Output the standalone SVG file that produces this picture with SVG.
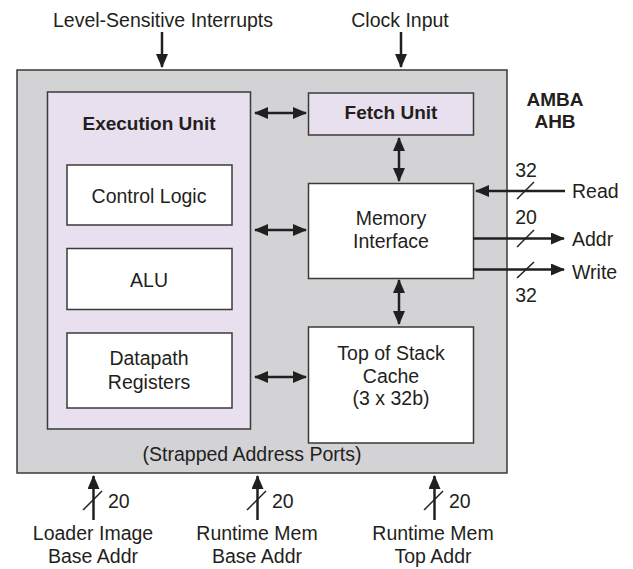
<svg xmlns="http://www.w3.org/2000/svg" width="633" height="569" viewBox="0 0 633 569">
  <style>
    text { font-family: "Liberation Sans", Arial, sans-serif; font-size: 19.5px; fill: #231f20; }
    .c { text-anchor: middle; }
    .b { font-weight: bold; font-size: 19px; }
    .box { stroke: #3a3a3a; stroke-width: 1.5; }
    .outer { fill: #d3d3d5; }
    .unit { fill: #e8e0ee; }
    .blk { fill: #ffffff; }
    .wire { stroke: #231f20; stroke-width: 2.5; fill: none; }
    .thin { stroke: #231f20; stroke-width: 1.5; fill: none; }
  </style>
  <defs>
    <marker id="head" markerUnits="userSpaceOnUse" markerWidth="14" markerHeight="12" refX="13" refY="6" orient="auto-start-reverse">
      <path d="M0,0 L14,6 L0,12 Z" fill="#231f20"/>
    </marker>
  </defs>

  <!-- core enclosure -->
  <g id="core">
    <rect class="box outer" x="17" y="70" width="490" height="403"/>
    <text class="c" x="252" y="461">(Strapped Address Ports)</text>
  </g>

  <g id="execution-unit">
    <rect class="box unit" x="47.5" y="92" width="203" height="337"/>
    <text class="c b" x="149" y="130">Execution Unit</text>
  </g>

  <g id="control-logic">
    <rect class="box blk" x="67" y="165" width="165" height="60"/>
    <text class="c" x="149" y="203">Control Logic</text>
  </g>

  <g id="alu">
    <rect class="box blk" x="67" y="248.5" width="165" height="61"/>
    <text class="c" x="149" y="287">ALU</text>
  </g>

  <g id="datapath-registers">
    <rect class="box blk" x="67" y="333" width="165" height="75"/>
    <text class="c" x="149" y="365">Datapath<tspan x="149" dy="24">Registers</tspan></text>
  </g>

  <g id="fetch-unit">
    <rect class="box unit" x="308.5" y="93" width="165" height="42"/>
    <text class="c b" x="391" y="119">Fetch Unit</text>
  </g>

  <g id="memory-interface">
    <rect class="box blk" x="308.5" y="183.5" width="165" height="95"/>
    <text class="c" x="391" y="225">Memory<tspan x="391" dy="22.5">Interface</tspan></text>
  </g>

  <g id="top-of-stack">
    <rect class="box blk" x="308.5" y="327" width="165" height="116"/>
    <text class="c" x="391" y="360">Top of Stack<tspan x="391" dy="22.5">Cache</tspan><tspan x="391" dy="22.5">(3 x 32b)</tspan></text>
  </g>

  <g id="amba-ahb">
    <text class="c b" x="555" y="106">AMBA<tspan x="555" dy="22">AHB</tspan></text>
  </g>

  <!-- external signal labels -->
  <g id="inputs">
    <text class="c" x="163" y="27">Level-Sensitive Interrupts</text>
    <text class="c" x="400" y="27">Clock Input</text>
    <text x="572" y="198">Read</text>
    <text x="572" y="246">Addr</text>
    <text x="572" y="279">Write</text>
    <text class="c" x="526" y="177">32</text>
    <text class="c" x="526" y="224">20</text>
    <text class="c" x="526" y="302">32</text>
    <text class="c" x="93" y="540">Loader Image<tspan x="93" dy="22.5">Base Addr</tspan></text>
    <text class="c" x="257" y="540">Runtime Mem<tspan x="257" dy="22.5">Base Addr</tspan></text>
    <text class="c" x="433" y="540">Runtime Mem<tspan x="433" dy="22.5">Top Addr</tspan></text>
    <text x="108" y="508">20</text>
    <text x="272" y="508">20</text>
    <text x="449" y="508">20</text>
  </g>

  <!-- connectors -->
  <g id="connectors">
    <path class="wire" d="M162,32 V67" marker-end="url(#head)"/>
    <path class="wire" d="M401,32 V67" marker-end="url(#head)"/>

    <path class="wire" d="M255,113 H306" marker-start="url(#head)" marker-end="url(#head)"/>
    <path class="wire" d="M255,230 H306" marker-start="url(#head)" marker-end="url(#head)"/>
    <path class="wire" d="M255,377 H306" marker-start="url(#head)" marker-end="url(#head)"/>
    <path class="wire" d="M399,138 V181" marker-start="url(#head)" marker-end="url(#head)"/>
    <path class="wire" d="M399,280 V324" marker-start="url(#head)" marker-end="url(#head)"/>

    <path class="wire" d="M565,191 H476" marker-end="url(#head)"/>
    <path class="wire" d="M473,238.5 H564" marker-end="url(#head)"/>
    <path class="wire" d="M473,269.5 H564" marker-end="url(#head)"/>
    <path class="thin" d="M517,199 L534,182"/>
    <path class="thin" d="M517,247 L534,230"/>
    <path class="thin" d="M517,278 L534,262"/>

    <path class="wire" d="M93.5,520 V476" marker-end="url(#head)"/>
    <path class="wire" d="M257.5,520 V476" marker-end="url(#head)"/>
    <path class="wire" d="M434.5,520 V476" marker-end="url(#head)"/>
    <path class="thin" d="M83,510 L102,491"/>
    <path class="thin" d="M247,510 L266,491"/>
    <path class="thin" d="M424,510 L443,491"/>
  </g>
</svg>
